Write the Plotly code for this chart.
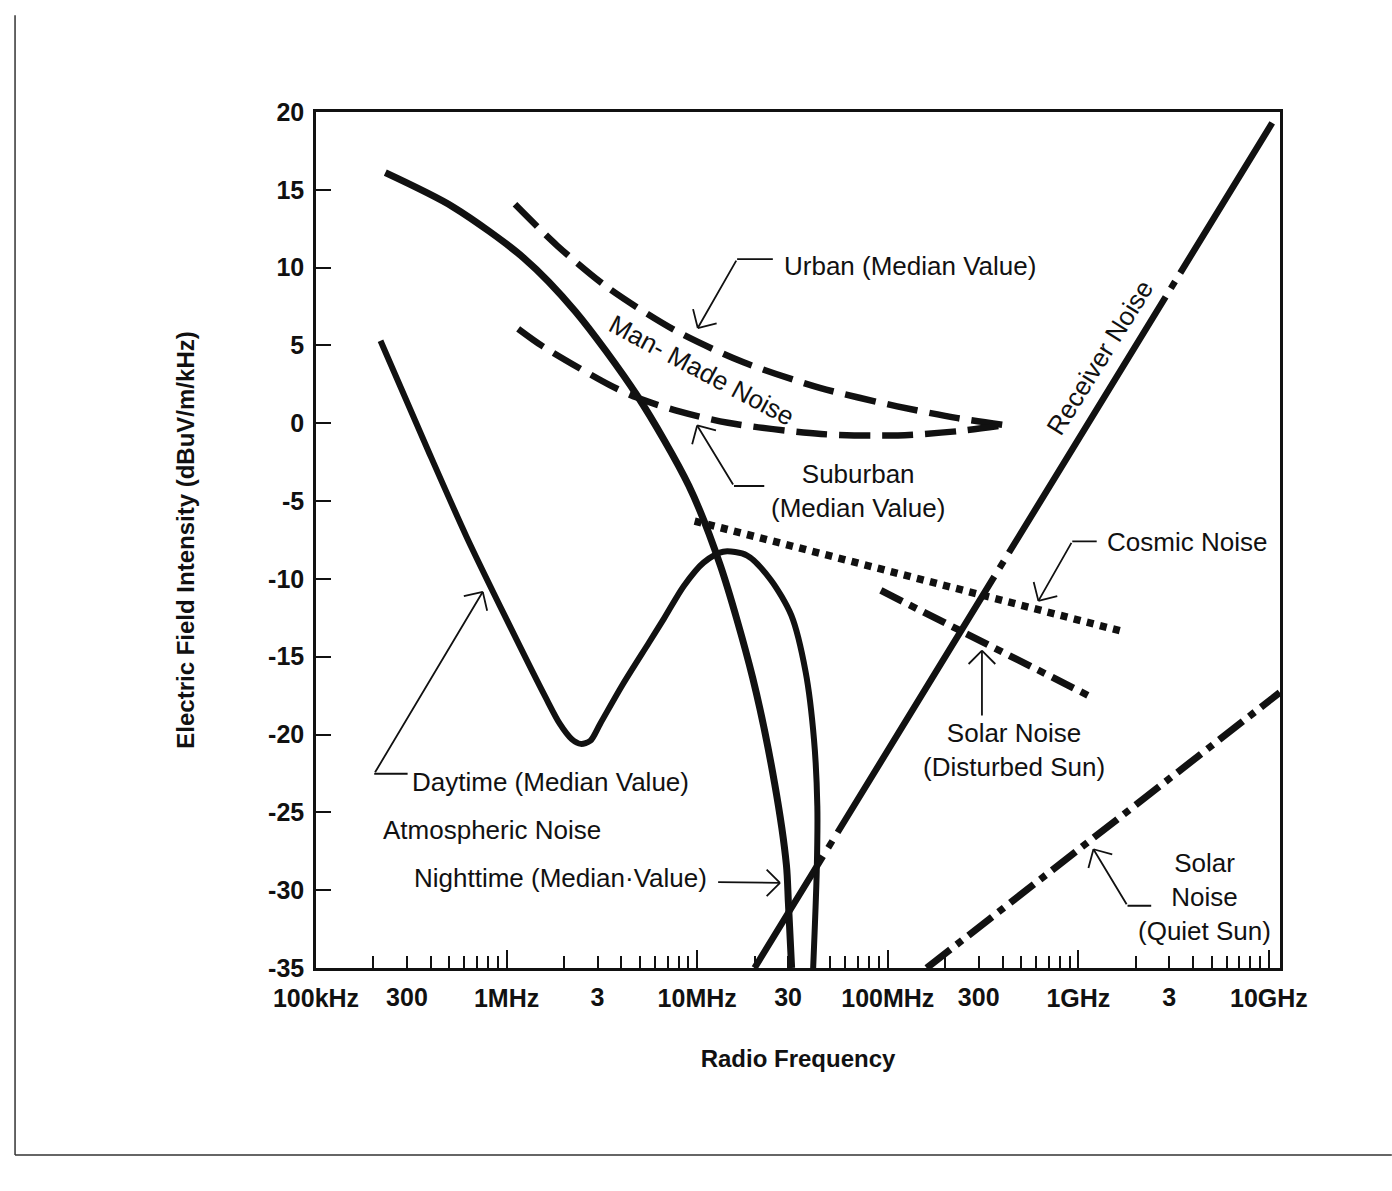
import math
import plotly.graph_objects as go

# Radio noise levels versus frequency.
# Frequencies are in MHz, field intensities in dB(uV/m/kHz).

# Atmospheric noise, nighttime median
night_freq = [0.231, 0.524, 1.236, 2.29, 4.83, 9.03, 13.24, 19.5, 25.5, 29.4, 30.1, 31.3]
night_level = [16.1, 13.9, 10.6, 7.2, 1.8, -4.0, -9.15, -16.3, -23.15, -28.4, -30.8, -35.0]

# Atmospheric noise, daytime median
day_freq = [0.218, 0.386, 0.617, 1.0, 1.6, 1.9, 2.2, 2.45, 2.75, 3.1, 4.06, 5.58, 6.73, 8.51,
            10.8, 13.7, 18.3, 24.3, 31.2, 37.1, 41.0, 42.7, 42.4, 40.6]
day_level = [5.3, -1.7, -7.3, -12.6, -17.6, -19.3, -20.3, -20.6, -20.4, -19.3, -16.8, -14.1, -12.5, -10.45,
             -8.95, -8.25, -8.5, -10.05, -12.35, -16.0, -20.3, -24.6, -28.75, -35.0]

# Man-made noise, urban and suburban medians
urban_freq = [1.107, 1.84, 3.4, 7.7, 17.5, 44, 112, 233, 411]
urban_level = [14.07, 11.42, 8.71, 5.95, 3.92, 2.28, 1.09, 0.33, -0.12]

suburban_freq = [1.15, 1.55, 3.48, 4.82, 7.87, 14.5, 44.6, 113, 233, 411]
suburban_level = [6.07, 4.94, 2.45, 1.65, 0.79, 0.03, -0.69, -0.78, -0.51, -0.12]

# Cosmic noise
cosmic_freq = [9.7, 108, 1656]
cosmic_level = [-6.28, -9.56, -13.33]

# Solar noise, disturbed and quiet sun
solar_dist_freq = [92, 1156]
solar_dist_level = [-10.74, -17.56]

solar_quiet_freq = [160, 11400]
solar_quiet_level = [-35.0, -17.3]

# Receiver noise (listed from the high-frequency end)
receiver_freq = [10400, 20]
receiver_level = [19.3, -35.0]

# Axis ticks
decade_vals = [0.1, 1, 10, 100, 1000, 10000]
decade_text = ["100kHz", "1MHz", "10MHz", "100MHz", "1GHz", "10GHz"]
third_vals = [0.3, 3, 30, 300, 3000]
third_text = ["300", "3", "30", "300", "3"]
minor_vals = [m * d for d in [0.1, 1, 10, 100, 1000] for m in range(2, 10)]
level_vals = [20, 15, 10, 5, 0, -5, -10, -15, -20, -25, -30, -35]
level_text = ["20", "15", "10", "5", "0", "-5", "-10", "-15", "-20", "-25", "-30", "-35"]

FONT = "Liberation Sans, Arial, Helvetica, sans-serif"
INK = "#111111"

fig = go.Figure()


def curve(freq, level, width, dash="solid", shape="spline"):
    fig.add_trace(go.Scatter(
        x=freq, y=level, mode="lines",
        line=dict(color=INK, width=width, dash=dash, shape=shape, smoothing=0.8),
        hoverinfo="skip", showlegend=False))


curve(night_freq, night_level, 7)
curve(day_freq, day_level, 6)
curve(urban_freq, urban_level, 6.5, dash="31px,12px")
curve(suburban_freq, suburban_level, 6.5, dash="31px,12px")
curve(cosmic_freq, cosmic_level, 7.5, dash="7px,6.5px", shape="linear")
curve(solar_dist_freq, solar_dist_level, 7, dash="24px,8px,8px,8px", shape="linear")
curve(solar_quiet_freq, solar_quiet_level, 7, dash="30px,8px,7px,8px", shape="linear")
curve(receiver_freq, receiver_level, 6.5, shape="linear",
      dash="176px,10px,8px,10px,300px,10px,8px,10px,300px,10px,8px,10px,600px")

# carrier for the second row of frequency labels
fig.add_trace(go.Scatter(x=[], y=[], xaxis="x2", mode="lines",
                         hoverinfo="skip", showlegend=False))


def label(text, f, level, xanchor="left", angle=0, size=26):
    fig.add_annotation(
        x=math.log10(f), y=level, xref="x", yref="y", text=text,
        showarrow=False, xanchor=xanchor, yanchor="middle", textangle=angle,
        align="center", font=dict(family=FONT, size=size, color=INK))


def segment(p, q):
    fig.add_annotation(
        x=math.log10(p[0]), y=p[1], ax=math.log10(q[0]), ay=q[1],
        xref="x", yref="y", axref="x", ayref="y", text="",
        showarrow=True, arrowhead=0, arrowwidth=1.8, arrowcolor=INK,
        standoff=0, startstandoff=0)


def pointer(tip, tail, head_angle, stub=None):
    """Leader line from tail to tip with an open V head; head_angle is the
    screen direction (deg) from the tip back along the shaft."""
    segment(tip, tail)
    for s in (-1, 1):
        a = math.radians(head_angle + s * 45)
        fig.add_annotation(
            x=math.log10(tip[0]), y=tip[1], xref="x", yref="y",
            ax=21 * math.cos(a), ay=21 * math.sin(a), text="",
            showarrow=True, arrowhead=0, arrowwidth=1.8, arrowcolor=INK,
            standoff=0, startstandoff=0)
    if stub is not None:
        segment(tail, stub)


# Man-made noise labels
label("Urban (Median Value)", 27.7, 10.1)
pointer((10.07, 6.12), (16.2, 10.55), -59, stub=(25.4, 10.55))
label("Man- Made Noise", 10.5, 3.4, xanchor="center", angle=28)
label("Suburban<br>(Median Value)", 69.8, -4.35, xanchor="center")
pointer((10.0, -0.14), (15.6, -4.03), 60, stub=(22.9, -4.03))

# Galactic / solar / receiver labels
label("Cosmic Noise", 1384, -7.6)
pointer((617, -11.41), (929, -7.59), -59, stub=(1271, -7.59))
label("Solar Noise<br>(Disturbed Sun)", 461, -21.0, xanchor="center")
pointer((312, -14.61), (312, -18.87), 90)
label("Solar<br>Noise<br>(Quiet Sun)", 4580, -30.45, xanchor="center")
pointer((1200, -27.37), (1811, -31.0), 60, stub=(2455, -31.0))
label("Receiver Noise", 1291, 4.2, xanchor="center", angle=-58)

# Atmospheric noise labels
label("Daytime (Median Value)", 0.312, -23.05)
pointer((0.75, -10.83), (0.202, -22.52), 122, stub=(0.308, -22.52))
label("Atmospheric Noise", 0.218, -26.12)
label("Nighttime (Median·Value)", 0.318, -29.24)
pointer((27.2, -29.53), (12.65, -29.48), 180)

tickfont = dict(family=FONT, size=25, color=INK, weight="bold")
titlefont = dict(family=FONT, size=24, color=INK, weight="bold")

fig.update_layout(
    width=1392, height=1191,
    margin=dict(l=316, r=112, t=112, b=223),
    paper_bgcolor="white", plot_bgcolor="white",
    xaxis=dict(
        type="log", range=[-1, 4.058],
        tickmode="array", tickvals=decade_vals, ticktext=decade_text,
        ticks="inside", ticklen=18, tickwidth=2, tickcolor=INK,
        minor=dict(tickmode="array", tickvals=minor_vals, ticks="inside",
                   ticklen=12, tickwidth=2, tickcolor=INK, showgrid=False),
        showline=True, linewidth=2.5, linecolor=INK, mirror=True,
        showgrid=False, zeroline=False,
        tickfont=tickfont, ticklabelstandoff=6,
        title=dict(text="Radio Frequency", font=titlefont, standoff=40),
    ),
    xaxis2=dict(
        type="log", range=[-1, 4.058], overlaying="x", anchor="y", side="bottom",
        tickmode="array", tickvals=third_vals, ticktext=third_text,
        ticks="", showline=False, showgrid=False, zeroline=False,
        tickfont=tickfont, ticklabelstandoff=12,
    ),
    yaxis=dict(
        range=[-35, 20], tickmode="array", tickvals=level_vals, ticktext=level_text,
        ticks="inside", ticklen=15, tickwidth=2, tickcolor=INK,
        showline=True, linewidth=2.5, linecolor=INK, mirror=True,
        showgrid=False, zeroline=False,
        tickfont=tickfont, ticklabelstandoff=4,
        title=dict(text="Electric Field Intensity (dBuV/m/kHz)", font=titlefont,
                   standoff=67),
    ),
    shapes=[
        dict(type="line", xref="paper", yref="paper", x0=-0.3122, x1=-0.3122,
             y0=-0.2185, y1=1.113, line=dict(color="#333333", width=1.5)),
        dict(type="line", xref="paper", yref="paper", x0=-0.3122, x1=1.116,
             y0=-0.2185, y1=-0.2185, line=dict(color="#333333", width=1.5)),
    ],
)

fig.write_html("out.html")
